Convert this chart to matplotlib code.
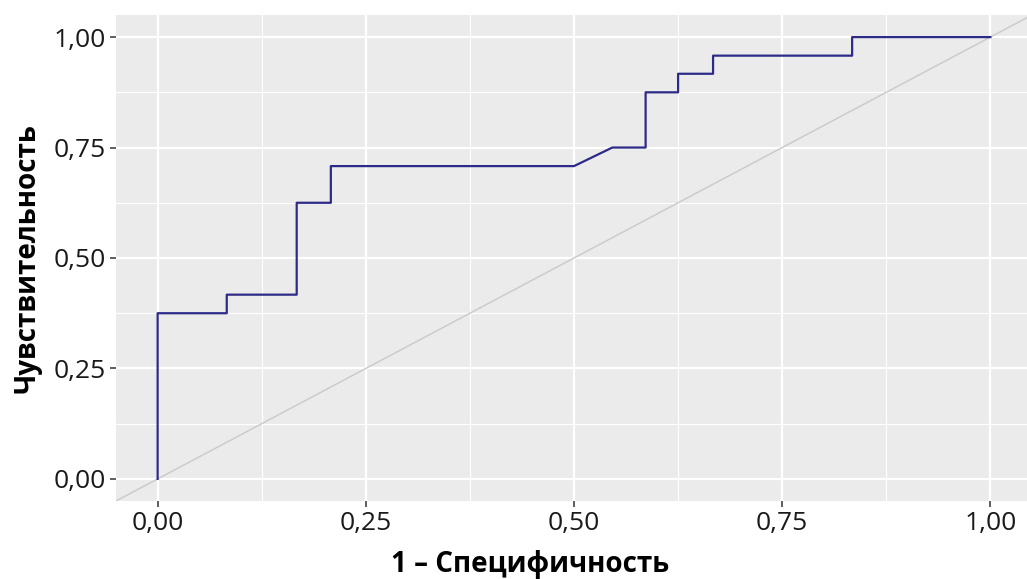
import numpy as np
import matplotlib
matplotlib.use("Agg")
import matplotlib.pyplot as plt
from matplotlib.ticker import FixedLocator

# ROC curve points
fpr = [0.0, 0.0, 0.083, 0.083, 0.167, 0.167, 0.208, 0.208, 0.500, 0.546,
       0.586, 0.586, 0.625, 0.625, 0.667, 0.667, 0.834, 0.834, 1.0]
tpr = [0.0, 0.375, 0.375, 0.417, 0.417, 0.625, 0.625, 0.708, 0.708, 0.750,
       0.750, 0.875, 0.875, 0.917, 0.917, 0.958, 0.958, 1.0, 1.0]

major_ticks = [0.0, 0.25, 0.5, 0.75, 1.0]
minor_ticks = [0.125, 0.375, 0.625, 0.875]
tick_labels = ["0,00", "0,25", "0,50", "0,75", "1,00"]

x_title = "1 – Специфичность"
y_title = "Чувствительность"

plt.rcParams['font.family'] = ['Open Sans', 'DejaVu Sans']

fig = plt.figure(figsize=(10.27, 5.79), dpi=100)
ax = fig.add_axes([116 / 1027, 78 / 579, (1032 - 116) / 1027, (565 - 79) / 579])
ax.set_facecolor('#EBEBEB')

ax.set_xlim(-0.05, 1.05)
ax.set_ylim(-0.05, 1.05)

ax.xaxis.set_major_locator(FixedLocator(major_ticks))
ax.yaxis.set_major_locator(FixedLocator(major_ticks))
ax.xaxis.set_minor_locator(FixedLocator(minor_ticks))
ax.yaxis.set_minor_locator(FixedLocator(minor_ticks))
ax.set_xticklabels(tick_labels)
ax.set_yticklabels(tick_labels)

ax.grid(which='major', color='white', linewidth=1.6)
ax.grid(which='minor', color='white', linewidth=0.8)
ax.set_axisbelow(True)

ax.tick_params(which='major', length=4, width=1.1, color='#333333',
               labelsize=19, labelcolor='#1a1a1a', pad=3)
ax.tick_params(which='minor', length=0)

for s in ax.spines.values():
    s.set_visible(False)

# chance diagonal
ax.axline((0, 0), slope=1, color='#CCCCCC', linewidth=1.1, zorder=2)
ax.plot(fpr, tpr, color='#2E2A88', linewidth=1.6, zorder=3)

ax.set_xlabel(x_title, fontsize=20, fontweight='bold', va='baseline')
ax.xaxis.set_label_coords(0.452, -(572 - 501) / 486)
ax.set_ylabel(y_title, fontsize=20, fontweight='bold', labelpad=9)

fig.savefig('out.png', dpi=100)
